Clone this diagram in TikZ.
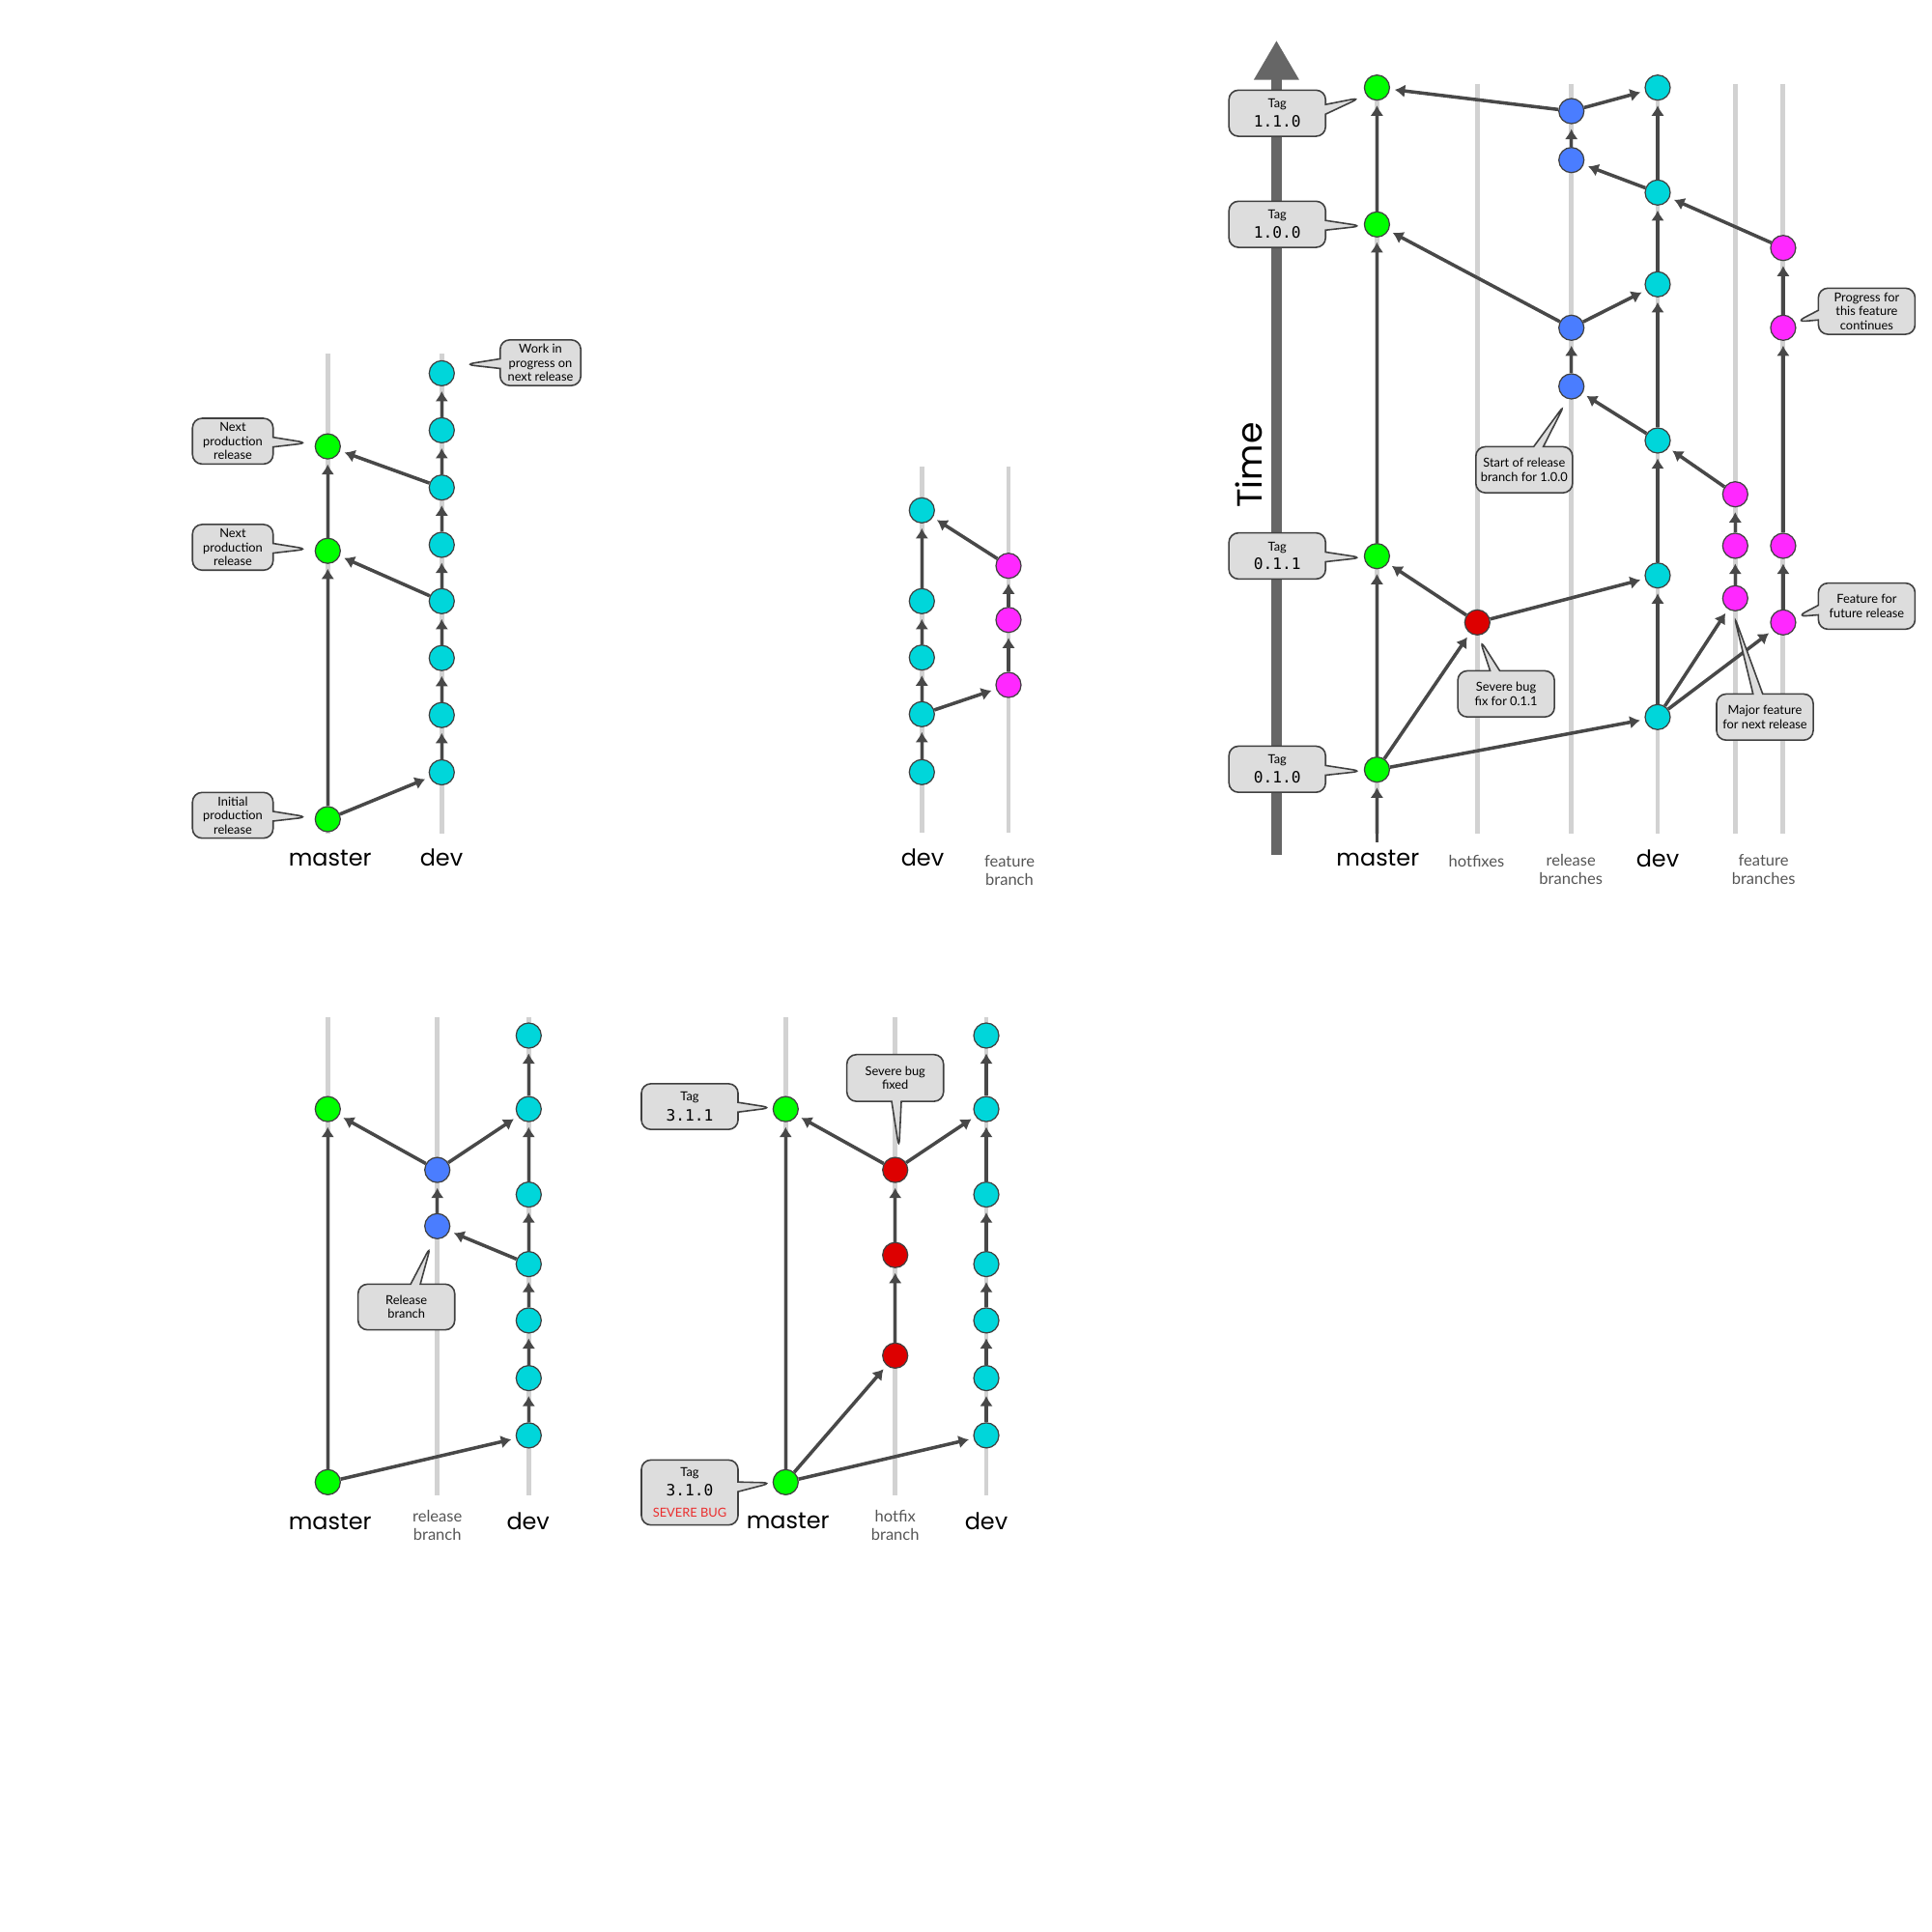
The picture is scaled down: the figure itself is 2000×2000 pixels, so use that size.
\documentclass[tikz,border=0pt]{standalone}
\usepackage{fontspec}
\usepackage{tikz}
\usetikzlibrary{arrows.meta,positioning,shapes.geometric,shapes.callouts}
\setmainfont{Lato}
\newfontfamily\branchfont{Poppins}
\newfontfamily\tagfont{DejaVu Sans Mono}
\definecolor{gitGreen}{RGB}{0,255,0}
\definecolor{gitCyan}{RGB}{0,214,218}
\definecolor{gitBlue}{RGB}{74,125,255}
\definecolor{gitMagenta}{RGB}{255,40,255}
\definecolor{gitRed}{RGB}{221,0,0}
\definecolor{gitArrow}{RGB}{72,72,72}
\definecolor{gitLane}{RGB}{210,210,210}
\definecolor{gitNote}{RGB}{221,221,221}
\definecolor{gitEdge}{RGB}{64,64,64}
\definecolor{gitTime}{RGB}{102,102,102}
\definecolor{gitSub}{RGB}{85,85,85}
\definecolor{gitBug}{RGB}{235,45,45}

\begin{document}
\begin{tikzpicture}[
    x=0.01cm, y=-0.01cm,
    lane/.style={gitLane, line width=1.4pt},
    commit/.style={circle, draw=gitEdge, line width=0.35pt, minimum size=0.26cm, inner sep=0pt},
    onmaster/.style={commit, fill=gitGreen},
    ondev/.style={commit, fill=gitCyan},
    onrelease/.style={commit, fill=gitBlue},
    onfeature/.style={commit, fill=gitMagenta},
    onhotfix/.style={commit, fill=gitRed},
    arrow/.style={-{Latex[length=3pt, width=3.9pt]}, line width=1pt, gitArrow, shorten >=1.4pt},
    timeline/.style={-{Triangle[length=0.41cm, width=0.44cm]}, line width=0.104cm, gitTime},
    note/.style={rectangle callout, rounded corners=2.8pt, draw=gitEdge, fill=gitNote, line width=0.45pt, align=center, inner sep=0pt, callout pointer width=0.1cm, font=\fontsize{3.65}{4.1}\selectfont},
    tag/.style={note, minimum width=1cm, minimum height=0.477cm},
    brlabel/.style={font=\branchfont\fontsize{6.8}{7}\selectfont},
    sublabel/.style={align=center, text=gitSub, font=\fontsize{4.7}{5.3}\selectfont}
  ]
  \useasboundingbox (0,0) rectangle (2000,2000);

  % lanes
  \draw[lane] (339.3,366.4) -- (339.3,863.3);
  \draw[lane] (457.3,366.4) -- (457.3,863.3);
  \draw[lane] (954.3,483) -- (954.3,862);
  \draw[lane] (1044,483) -- (1044,862);
  \draw[lane] (1425.4,86.7) -- (1425.4,863);
  \draw[lane] (1529.3,86.7) -- (1529.3,863);
  \draw[lane] (1626.7,86.7) -- (1626.7,863);
  \draw[lane] (1716,86.7) -- (1716,863);
  \draw[lane] (1796.3,86.7) -- (1796.3,863);
  \draw[lane] (1845.9,86.7) -- (1845.9,863);
  \draw[lane] (339.3,1052.7) -- (339.3,1547.8);
  \draw[lane] (452.7,1052.7) -- (452.7,1547.8);
  \draw[lane] (547.3,1052.7) -- (547.3,1547.8);
  \draw[lane] (813.3,1052.7) -- (813.3,1547.8);
  \draw[lane] (926.7,1052.7) -- (926.7,1547.8);
  \draw[lane] (1021,1052.7) -- (1021,1547.8);

  % time axis
  \coordinate (tbot) at (1321.4,885);
  \coordinate (ttop) at (1321.4,41.7);
  \draw[timeline] (tbot) -- (ttop);
  \node[rotate=90, font=\branchfont\fontsize{10.3}{11}\selectfont] (timelabel) at (1293,481.5) {Time};

  % first picture: master and dev
  \node[onmaster] (am1) at (339.3,848) {};
  \node[onmaster] (am2) at (339.3,570.2) {};
  \node[onmaster] (am3) at (339.3,462.1) {};
  \node[ondev] (ad1) at (457.3,799.5) {};
  \node[ondev] (ad2) at (457.3,740.2) {};
  \node[ondev] (ad3) at (457.3,681.2) {};
  \node[ondev] (ad4) at (457.3,622.3) {};
  \node[ondev] (ad5) at (457.3,564) {};
  \node[ondev] (ad6) at (457.3,504.7) {};
  \node[ondev] (ad7) at (457.3,445.4) {};
  \node[ondev] (ad8) at (457.3,386.4) {};
  \draw[arrow] (am1) -- (am2);
  \draw[arrow] (am2) -- (am3);
  \draw[arrow] (am1) -- (ad1);
  \draw[arrow] (ad1) -- (ad2);
  \draw[arrow] (ad2) -- (ad3);
  \draw[arrow] (ad3) -- (ad4);
  \draw[arrow] (ad4) -- (ad5);
  \draw[arrow] (ad5) -- (ad6);
  \draw[arrow] (ad6) -- (ad7);
  \draw[arrow] (ad7) -- (ad8);
  \draw[arrow] (ad4) -- (am2);
  \draw[arrow] (ad6) -- (am3);
  \coordinate (atip1) at (481,377.3);
  \coordinate (atip2) at (319,458.5);
  \coordinate (atip3) at (319,568.4);
  \coordinate (atip4) at (319,845.8);
  \node[note, minimum width=0.834cm, minimum height=0.473cm, callout absolute pointer={(atip1)}] (anote1) at (559.5,375.5) {Work in\\progress on\\next release};
  \node[note, minimum width=0.834cm, minimum height=0.473cm, callout absolute pointer={(atip2)}] (anote2) at (241,456.7) {Next\\production\\release};
  \node[note, minimum width=0.834cm, minimum height=0.473cm, callout absolute pointer={(atip3)}] (anote3) at (241,566.6) {Next\\production\\release};
  \node[note, minimum width=0.834cm, minimum height=0.473cm, callout absolute pointer={(atip4)}] (anote4) at (241,844) {Initial\\production\\release};
  \node[brlabel] (alab1) at (341.7,888.7) {master};
  \node[brlabel] (alab2) at (457,888) {dev};

  % second picture: feature branch
  \node[ondev] (bd1) at (954.3,799.3) {};
  \node[ondev] (bd2) at (954.3,739.3) {};
  \node[ondev] (bd3) at (954.3,680.7) {};
  \node[ondev] (bd4) at (954.3,622.3) {};
  \node[ondev] (bd5) at (954.3,528.3) {};
  \node[onfeature] (bf1) at (1044,709) {};
  \node[onfeature] (bf2) at (1044,641.7) {};
  \node[onfeature] (bf3) at (1044,585.7) {};
  \draw[arrow] (bd1) -- (bd2);
  \draw[arrow] (bd2) -- (bd3);
  \draw[arrow] (bd3) -- (bd4);
  \draw[arrow] (bd4) -- (bd5);
  \draw[arrow] (bd2) -- (bf1);
  \draw[arrow] (bf1) -- (bf2);
  \draw[arrow] (bf2) -- (bf3);
  \draw[arrow] (bf3) -- (bd5);
  \node[brlabel] (blab1) at (955,888) {dev};
  \node[sublabel] (blab2) at (1045,901) {feature\\branch};

  % third picture: the whole model
  \coordinate (croot) at (1425.4,871.7);
  \node[onmaster] (cm1) at (1425.4,796.7) {};
  \node[onmaster] (cm2) at (1425.4,575.7) {};
  \node[onmaster] (cm3) at (1425.4,232.3) {};
  \node[onmaster] (cm4) at (1425.4,90.7) {};
  \node[onhotfix] (ch1) at (1529.3,644.3) {};
  \node[onrelease] (cr1) at (1626.7,400) {};
  \node[onrelease] (cr2) at (1626.7,339.3) {};
  \node[onrelease] (cr3) at (1626.7,165.7) {};
  \node[onrelease] (cr4) at (1626.7,115) {};
  \node[ondev] (cd1) at (1716,742.3) {};
  \node[ondev] (cd2) at (1716,595.7) {};
  \node[ondev] (cd3) at (1716,456) {};
  \node[ondev] (cd4) at (1716,294.3) {};
  \node[ondev] (cd5) at (1716,199.3) {};
  \node[ondev] (cd6) at (1716,90.7) {};
  \node[onfeature] (cf1) at (1796.3,619.3) {};
  \node[onfeature] (cf2) at (1796.3,565) {};
  \node[onfeature] (cf3) at (1796.3,511.7) {};
  \node[onfeature] (cg1) at (1845.9,644.3) {};
  \node[onfeature] (cg2) at (1845.9,565) {};
  \node[onfeature] (cg3) at (1845.9,339.3) {};
  \node[onfeature] (cg4) at (1845.9,256.7) {};
  \draw[arrow] (croot) -- (cm1);
  \draw[arrow] (cm1) -- (cm2);
  \draw[arrow] (cm2) -- (cm3);
  \draw[arrow] (cm3) -- (cm4);
  \draw[arrow] (cm1) -- (ch1);
  \draw[arrow] (ch1) -- (cm2);
  \draw[arrow] (ch1) -- (cd2);
  \draw[arrow] (cm1) -- (cd1);
  \draw[arrow] (cd1) -- (cd2);
  \draw[arrow] (cd1) -- (cf1);
  \draw[arrow] (cd1) -- (cg1);
  \draw[arrow] (cf1) -- (cf2);
  \draw[arrow] (cf2) -- (cf3);
  \draw[arrow] (cf3) -- (cd3);
  \draw[arrow] (cg1) -- (cg2);
  \draw[arrow] (cg2) -- (cg3);
  \draw[arrow] (cg3) -- (cg4);
  \draw[arrow] (cg4) -- (cd5);
  \draw[arrow] (cd2) -- (cd3);
  \draw[arrow] (cd3) -- (cr1);
  \draw[arrow] (cd3) -- (cd4);
  \draw[arrow] (cr1) -- (cr2);
  \draw[arrow] (cr2) -- (cm3);
  \draw[arrow] (cr2) -- (cd4);
  \draw[arrow] (cd4) -- (cd5);
  \draw[arrow] (cd5) -- (cr3);
  \draw[arrow] (cd5) -- (cd6);
  \draw[arrow] (cr3) -- (cr4);
  \draw[arrow] (cr4) -- (cm4);
  \draw[arrow] (cr4) -- (cd6);
  \coordinate (ctip1) at (1408.8,101);
  \coordinate (ctip2) at (1410.3,234);
  \coordinate (ctip3) at (1410.3,577.3);
  \coordinate (ctip4) at (1410.3,798.3);
  \coordinate (ctip5) at (1859.1,333.3);
  \coordinate (ctip6) at (1620,418.3);
  \coordinate (ctip7) at (1531.7,661.7);
  \coordinate (ctip8) at (1860,638.3);
  \coordinate (ctip9) at (1794.9,636.7);
  \node[tag, callout absolute pointer={(ctip1)}] (ctag1) at (1322.2,117.2) {Tag\\[1.5pt]{\tagfont\fontsize{4.6}{5}\selectfont 1.1.0}};
  \node[tag, callout absolute pointer={(ctip2)}] (ctag2) at (1322.2,232.2) {Tag\\[1.5pt]{\tagfont\fontsize{4.6}{5}\selectfont 1.0.0}};
  \node[tag, callout absolute pointer={(ctip3)}] (ctag3) at (1322.2,575.5) {Tag\\[1.5pt]{\tagfont\fontsize{4.6}{5}\selectfont 0.1.1}};
  \node[tag, callout absolute pointer={(ctip4)}] (ctag4) at (1322.2,796.3) {Tag\\[1.5pt]{\tagfont\fontsize{4.6}{5}\selectfont 0.1.0}};
  \node[tag, callout absolute pointer={(ctip5)}] (cnote1) at (1932.4,322.2) {Progress for\\this feature\\continues};
  \node[tag, callout absolute pointer={(ctip6)}] (cnote2) at (1577.8,486.3) {Start of release\\branch for 1.0.0};
  \node[tag, callout absolute pointer={(ctip7)}] (cnote3) at (1559.1,718.3) {Severe bug\\fix for 0.1.1};
  \node[tag, callout absolute pointer={(ctip8)}] (cnote4) at (1932.4,627.5) {Feature for\\future release};
  \node[tag, callout absolute pointer={(ctip9)}] (cnote5) at (1827,742.3) {Major feature\\for next release};
  \node[brlabel] (clab1) at (1426.3,888.3) {master};
  \node[sublabel] (clab2) at (1528.4,891) {hotfixes};
  \node[sublabel] (clab3) at (1626.2,900) {release\\branches};
  \node[brlabel] (clab4) at (1716,888.3) {dev};
  \node[sublabel] (clab5) at (1825.6,900) {feature\\branches};

  % fourth picture: release branch
  \node[onmaster] (dm1) at (339.3,1534.3) {};
  \node[onmaster] (dm2) at (339.3,1148.1) {};
  \node[onrelease] (dr1) at (452.7,1269.3) {};
  \node[onrelease] (dr2) at (452.7,1211.1) {};
  \node[ondev] (dd1) at (547.3,1485.9) {};
  \node[ondev] (dd2) at (547.3,1426.6) {};
  \node[ondev] (dd3) at (547.3,1366.9) {};
  \node[ondev] (dd4) at (547.3,1308.6) {};
  \node[ondev] (dd5) at (547.3,1236.6) {};
  \node[ondev] (dd6) at (547.3,1148.1) {};
  \node[ondev] (dd7) at (547.3,1072) {};
  \draw[arrow] (dm1) -- (dm2);
  \draw[arrow] (dm1) -- (dd1);
  \draw[arrow] (dd1) -- (dd2);
  \draw[arrow] (dd2) -- (dd3);
  \draw[arrow] (dd3) -- (dd4);
  \draw[arrow] (dd4) -- (dd5);
  \draw[arrow] (dd5) -- (dd6);
  \draw[arrow] (dd6) -- (dd7);
  \draw[arrow] (dd4) -- (dr1);
  \draw[arrow] (dr1) -- (dr2);
  \draw[arrow] (dr2) -- (dm2);
  \draw[arrow] (dr2) -- (dd6);
  \coordinate (dtip1) at (446,1289.3);
  \node[note, minimum width=1cm, minimum height=0.473cm, callout absolute pointer={(dtip1)}] (dnote1) at (420.7,1353) {Release\\branch};
  \node[brlabel] (dlab1) at (341.7,1575) {master};
  \node[sublabel] (dlab2) at (452.7,1578.7) {release\\branch};
  \node[brlabel] (dlab3) at (546.7,1574.3) {dev};

  % fifth picture: hotfix branch
  \node[onmaster] (em1) at (813.3,1534.3) {};
  \node[onmaster] (em2) at (813.3,1148.1) {};
  \node[onhotfix] (eh1) at (926.7,1403.3) {};
  \node[onhotfix] (eh2) at (926.7,1299.2) {};
  \node[onhotfix] (eh3) at (926.7,1211.1) {};
  \node[ondev] (ed1) at (1021,1485.9) {};
  \node[ondev] (ed2) at (1021,1426.6) {};
  \node[ondev] (ed3) at (1021,1366.9) {};
  \node[ondev] (ed4) at (1021,1308.6) {};
  \node[ondev] (ed5) at (1021,1236.6) {};
  \node[ondev] (ed6) at (1021,1148.1) {};
  \node[ondev] (ed7) at (1021,1072) {};
  \draw[arrow] (em1) -- (em2);
  \draw[arrow] (em1) -- (eh1);
  \draw[arrow] (em1) -- (ed1);
  \draw[arrow] (eh1) -- (eh2);
  \draw[arrow] (eh2) -- (eh3);
  \draw[arrow] (eh3) -- (em2);
  \draw[arrow] (eh3) -- (ed6);
  \draw[arrow] (ed1) -- (ed2);
  \draw[arrow] (ed2) -- (ed3);
  \draw[arrow] (ed3) -- (ed4);
  \draw[arrow] (ed4) -- (ed5);
  \draw[arrow] (ed5) -- (ed6);
  \draw[arrow] (ed6) -- (ed7);
  \coordinate (etip1) at (799.3,1146.7);
  \coordinate (etip2) at (799.3,1535);
  \coordinate (etip3) at (930.7,1189.2);
  \node[note, minimum width=1cm, minimum height=0.473cm, callout absolute pointer={(etip1)}] (etag1) at (714,1145.5) {Tag\\[1.6pt]{\tagfont\fontsize{4.6}{5}\selectfont 3.1.1}};
  \node[note, minimum width=1cm, minimum height=0.673cm, callout absolute pointer={(etip2)}] (etag2) at (714,1545) {Tag\\[1.6pt]{\tagfont\fontsize{4.6}{5}\selectfont 3.1.0}\\[2.2pt]\textcolor{gitBug}{SEVERE BUG}};
  \node[note, minimum width=1cm, minimum height=0.484cm, callout absolute pointer={(etip3)}] (enote1) at (926.7,1115.9) {Severe bug\\fixed};
  \node[brlabel] (elab1) at (815.7,1574.3) {master};
  \node[sublabel] (elab2) at (926.7,1578.7) {hotfix\\branch};
  \node[brlabel] (elab3) at (1021,1574.3) {dev};
\end{tikzpicture}
\end{document}
